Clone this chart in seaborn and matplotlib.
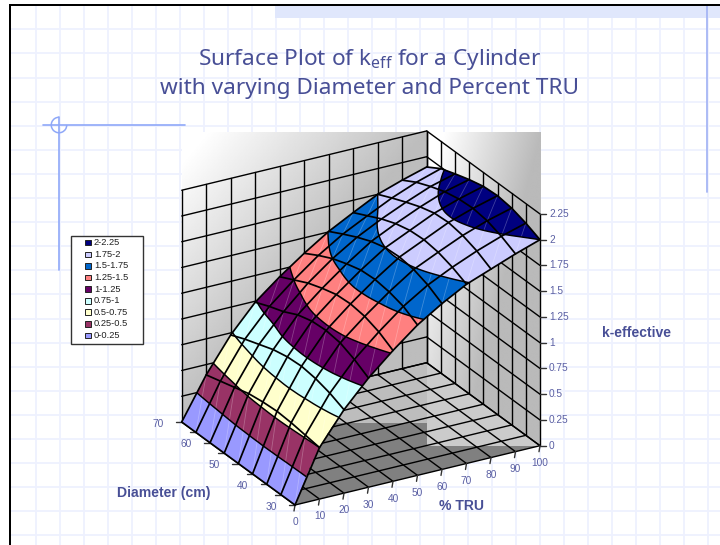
import numpy as np
import pandas as pd
import seaborn as sns
import matplotlib
matplotlib.use("Agg")
import matplotlib.pyplot as plt
import matplotlib.tri as mtri
from matplotlib.patches import Rectangle, Polygon, Arc

# k-effective by % TRU, one list per cylinder diameter
tru_percent = [0, 10, 20, 30, 40, 50, 60, 70, 80, 90, 100]
diameters = [30, 35, 40, 45, 50, 55, 60, 65, 70]
keff_d30 = [0, .50, .81, 1.06, 1.27, 1.46, 1.61, 1.74, 1.83, 1.92, 2.00]
keff_d35 = [0, .52, .87, 1.14, 1.35, 1.54, 1.69, 1.805, 1.905, 1.99, 2.06]
keff_d40 = [0, .54, .91, 1.20, 1.40, 1.58, 1.74, 1.85, 1.955, 2.04, 2.105]
keff_d45 = [0, .55, .93, 1.22, 1.42, 1.60, 1.76, 1.87, 1.98, 2.06, 2.125]
keff_d50 = [0, .54, .92, 1.21, 1.41, 1.59, 1.75, 1.86, 1.97, 2.05, 2.115]
keff_d55 = [0, .52, .89, 1.17, 1.37, 1.55, 1.71, 1.825, 1.93, 2.02, 2.08]
keff_d60 = [0, .48, .84, 1.10, 1.32, 1.50, 1.65, 1.77, 1.875, 1.97, 2.035]
keff_d65 = [0, .44, .79, 1.05, 1.25, 1.43, 1.58, 1.70, 1.815, 1.91, 1.985]
keff_d70 = [0, .40, .73, .99, 1.18, 1.35, 1.505, 1.63, 1.75, 1.83, 1.90]
keff_rows = [keff_d30, keff_d35, keff_d40, keff_d45, keff_d50,
             keff_d55, keff_d60, keff_d65, keff_d70]

band_levels = [0, .25, .5, .75, 1, 1.25, 1.5, 1.75, 2, 2.25]
band_labels = ["0-0.25", "0.25-0.5", "0.5-0.75", "0.75-1", "1-1.25",
               "1.25-1.5", "1.5-1.75", "1.75-2", "2-2.25"]
band_colors = ["#9999ff", "#993366", "#ffffcc", "#ccffff", "#660066",
               "#ff8080", "#0066cc", "#ccccff", "#000080"]
k_tick_labels = ["0", "0.25", "0.5", "0.75", "1", "1.25", "1.5", "1.75", "2", "2.25"]
tru_ticks = tru_percent
diameter_ticks = diameters

INK = "#484f96"
TICK_INK = "#5a5fa3"
RULE_BLUE = "#8fa8f8"

sns.set_theme(style="white")
plt.rcParams["font.family"] = ["Liberation Sans", "DejaVu Sans"]
plt.rcParams["mathtext.default"] = "regular"


def project(pct, dia, k):
    """Oblique projection of (% TRU, diameter, k) onto slide pixels."""
    t = np.asarray(pct, float) / 100
    d = (np.asarray(dia, float) - 30) / 40
    return 295 + 245 * t - 113.3 * d, 505 - 59.3 * t - 83 * d - 103 * np.asarray(k, float)


def draw_polylines(ax, polylines, zorder, lw, color="black", alpha=1.0):
    """Draw a list of (pct, dia, k) polylines with seaborn."""
    rows = []
    for i, (p, d, k) in enumerate(polylines):
        x, y = project(p, d, k)
        rows.append(pd.DataFrame({"px": np.atleast_1d(x), "py": np.atleast_1d(y), "line": i}))
    sns.lineplot(data=pd.concat(rows), x="px", y="py", units="line", estimator=None,
                 sort=False, color=color, linewidth=lw, alpha=alpha, ax=ax,
                 legend=False, zorder=zorder)


def shaded_panel(ax, x0, x1, y0, y1, horiz_w, vert_w, start, depth):
    """Paint a white-to-grey diagonal ramp over a rectangular panel."""
    fx, fy = np.meshgrid(np.linspace(0, 1, 200), np.linspace(0, 1, 200))
    s = np.clip((horiz_w * fx + vert_w * fy - start) / (1 - start), 0, 1)
    ax.imshow(1 - depth * s, extent=(x0, x1, y1, y0), cmap="gray", vmin=0, vmax=1,
              aspect="auto", zorder=3.1, interpolation="bilinear")


fig = plt.figure(figsize=(7.2, 5.45), dpi=100)
ax = fig.add_axes([0, 0, 1, 1])
ax.set_facecolor("white")

# slide decoration
for gx in np.arange(35.7, 720, 24):
    ax.plot([gx, gx], [6, 545], color="#eef1fe", lw=1.3, zorder=1)
for gy in np.arange(29.3, 545, 24.1):
    ax.plot([11, 720], [gy, gy], color="#eef1fe", lw=1.3, zorder=1)
ax.add_patch(Rectangle((275, 6), 445, 12, color="#e0e7fc", lw=0, zorder=1.5))
ax.plot([706.7, 706.7], [6, 192], color="#a6b6f5", lw=1.3, zorder=2)
ax.plot([43, 185], [125.3, 125.3], color=RULE_BLUE, lw=1.2, zorder=2)
ax.plot([59, 59], [117, 270], color=RULE_BLUE, lw=1.2, zorder=2)
ax.add_patch(Arc((59, 125), 15.5, 15.5, theta1=0, theta2=270, color=RULE_BLUE, lw=1.1, zorder=2))
ax.add_patch(Rectangle((9, 4), 711, 2, color="black", lw=0, zorder=2))
ax.add_patch(Rectangle((9, 4), 2, 541, color="black", lw=0, zorder=2))

# title
ax.text(370, 64.7, r"Surface Plot of k$_{eff}$ for a Cylinder", ha="center", va="baseline",
        fontsize=16.3, color=INK, family="Noto Sans", zorder=5)
ax.text(370, 94, "with varying Diameter and Percent TRU", ha="center", va="baseline",
        fontsize=16.3, color=INK, family="Noto Sans", zorder=5)

# floor base, the two shaded panels, then the part of the floor lying inside them
fx, fy = project([0, 100, 100, 0], [30, 30, 70, 70], [0, 0, 0, 0])
floor_xy = np.column_stack([fx, fy])
ax.add_patch(Polygon(floor_xy, color="#808080", lw=0, zorder=3))
shaded_panel(ax, 181.7, 426.7, 132, 423, 1.0, 1.0, .1, .26)
shaded_panel(ax, 426.7, 540, 132, 446, 1.0, .7, .15, .27)
for clip_box, tone in (((181.7, 132, 245, 291), "#bdbdbd"), ((426.7, 132, 113.3, 314), "#cbcbcb")):
    lit = Polygon(floor_xy, color=tone, lw=0, zorder=3.2)
    ax.add_patch(lit)
    lit.set_clip_path(Rectangle(clip_box[:2], clip_box[2], clip_box[3], transform=ax.transData))

# wall and floor rulings
k_top = band_levels[-1]
rulings = []
for lv in band_levels:
    rulings.append(([0, 100], [70, 70], [lv, lv]))
    rulings.append(([100, 100], [70, 30], [lv, lv]))
for p in tru_ticks:
    rulings.append(([p, p], [70, 70], [0, k_top]))
    rulings.append(([p, p], [30, 70], [0, 0]))
for d in diameter_ticks:
    rulings.append(([100, 100], [d, d], [0, k_top]))
    rulings.append(([0, 100], [d, d], [0, 0]))
draw_polylines(ax, rulings, zorder=3.5, lw=1.0)

# colour bands of the surface, contoured on a smoothed grid before projecting
P, D = np.meshgrid(tru_percent, diameters)
K = np.array(keff_rows)
ni, nj = K.shape
tris = []
for i in range(ni - 1):
    for j in range(nj - 1):
        a, b, c, e = i * nj + j, i * nj + j + 1, (i + 1) * nj + j, (i + 1) * nj + j + 1
        tris += [[a, b, e], [a, e, c]]
grid_tri = mtri.Triangulation(P.ravel().astype(float), D.ravel().astype(float) * 2.5, tris)
fine_tri, fine_k = mtri.UniformTriRefiner(grid_tri).refine_field(K.ravel(), subdiv=3)
fine_k = np.clip(fine_k, 0, None)
sx, sy = project(fine_tri.x, fine_tri.y / 2.5, fine_k)
surface_tri = mtri.Triangulation(sx, sy, fine_tri.triangles)
ax.tricontourf(surface_tri, fine_k, levels=band_levels, colors=band_colors, zorder=4, antialiased=True)
ax.tricontour(surface_tri, fine_k, levels=band_levels[1:-1], colors="black", linewidths=1.05, zorder=4.3)

# faint facet diagonals
diagonals = []
for i in range(ni - 1):
    for j in range(nj - 1):
        diagonals.append(([tru_percent[j], tru_percent[j + 1]], [diameters[i], diameters[i + 1]],
                          [K[i, j], K[i + 1, j + 1]]))
draw_polylines(ax, diagonals, zorder=4.2, lw=.6, color="white", alpha=.25)

# surface mesh
mesh = [(tru_percent, [d] * nj, K[i]) for i, d in enumerate(diameters)]
mesh += [([p] * ni, diameters, K[:, j]) for j, p in enumerate(tru_percent)]
draw_polylines(ax, mesh, zorder=4.5, lw=1.25)

# axis ticks and labels
for lv, lab in zip(band_levels, k_tick_labels):
    x, y = project(100, 30, lv)
    ax.plot([x, x + 6], [y, y], color="#333333", lw=1, zorder=4)
    ax.text(x + 9, y, lab, ha="left", va="center", fontsize=7.3, color=TICK_INK, zorder=5)
for p in tru_ticks:
    x, y = project(p, 30, 0)
    ax.plot([x, x - 1], [y, y + 6], color="#333333", lw=1, zorder=4)
    ax.text(x, y + 17.3, str(p), ha="center", va="center", fontsize=7.3, color=TICK_INK, zorder=5)
for d in diameter_ticks:
    x, y = project(0, d, 0)
    ax.plot([x - 6, x], [y, y], color="#333333", lw=1, zorder=3.9)
    if d % 10 == 0:
        ax.text(x - 24, y + 1.7, str(d), ha="center", va="center", fontsize=7.3, color=TICK_INK, zorder=5)

ax.text(636.5, 333, "k-effective", ha="center", va="center", fontsize=10.1, weight="bold", color=INK, zorder=5)
ax.text(461.5, 506, "% TRU", ha="center", va="center", fontsize=10.1, weight="bold", color=INK, zorder=5)
ax.text(164, 493, "Diameter (cm)", ha="center", va="center", fontsize=10.1, weight="bold", color=INK, zorder=5)

# legend box
ax.add_patch(Rectangle((71, 236), 71.5, 108, facecolor="white", edgecolor="#333333", lw=1, zorder=5))
for n, (lab, col) in enumerate(zip(band_labels[::-1], band_colors[::-1])):
    ly = 242.7 + n * 11.6
    ax.add_patch(Rectangle((85, ly - 2.8), 5.6, 5.6, facecolor=col, edgecolor="#222222", lw=.7, zorder=5.1))
    ax.text(94, ly, lab, ha="left", va="center", fontsize=6.7, color="#222222", zorder=5.1)

ax.set_xlim(0, 720)
ax.set_ylim(545, 0)
ax.set_xlabel("")
ax.set_ylabel("")
ax.axis("off")
fig.savefig("out.png", dpi=100, facecolor="white")
